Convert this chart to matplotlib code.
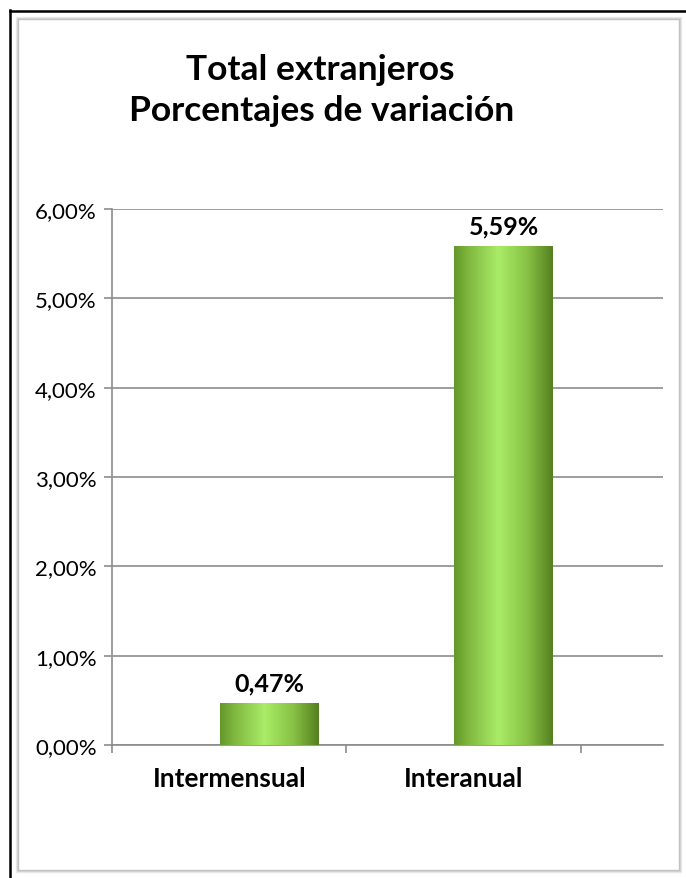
import numpy as np
import matplotlib
matplotlib.use("Agg")
import matplotlib.pyplot as plt
from matplotlib.colors import LinearSegmentedColormap
from matplotlib.lines import Line2D
from matplotlib.patches import Rectangle

# Data
categories = ["Intermensual", "Interanual"]
values = [0.47, 5.59]
value_labels = ["0,47%", "5,59%"]
y_ticks = [0, 1, 2, 3, 4, 5, 6]
y_tick_labels = ["0,00%", "1,00%", "2,00%", "3,00%", "4,00%", "5,00%", "6,00%"]
title_lines = ["Total extranjeros", "Porcentajes de variación"]

plt.rcParams['font.family'] = ['Lato', 'DejaVu Sans']

W, H = 686, 879
fig = plt.figure(figsize=(W / 100, H / 100), dpi=100)
fig.patch.set_facecolor("white")

# Chart frame: black outer lines and a soft grey inner border
fig.add_artist(Line2D([10 / W, 10 / W], [0, 1 - 11 / H], color="black", lw=1.8,
                      transform=fig.transFigure))
fig.add_artist(Line2D([10 / W, 1], [1 - 11.5 / H, 1 - 11.5 / H], color="black", lw=1.8,
                      transform=fig.transFigure))
for i, c in enumerate(["#ececec", "#d6d6d6", "#c2c2c2"]):
    d = i * 1.0
    fig.add_artist(Rectangle(((16 + d) / W, (H - 873 + d) / H), (665 - 2 * d) / W,
                             (855 - 2 * d) / H, fill=False, edgecolor=c, lw=1.0,
                             transform=fig.transFigure))

ax = fig.add_axes([112 / W, 1 - 746 / H, 551 / W, 536 / H])

x = np.arange(len(categories))
offset = 0.17
bars = ax.bar(x + offset, values, width=0.42, color="none", edgecolor="none", zorder=3)

cmap = LinearSegmentedColormap.from_list(
    "bar_green",
    [(0.0, "#64972a"), (0.15, "#80b940"), (0.45, "#aaec68"), (0.75, "#86c044"), (1.0, "#557f1f")])
grad = np.linspace(0, 1, 256).reshape(1, -1)
for b in bars:
    x0, y0 = b.get_x(), b.get_y()
    w, h = b.get_width(), b.get_height()
    im = ax.imshow(grad, cmap=cmap, extent=(x0, x0 + w, y0, y0 + h), aspect="auto",
                   zorder=3, interpolation="bicubic")
    im.set_clip_path(b)

for xi, v, lab in zip(x + offset, values, value_labels):
    ax.annotate(lab, (xi, v), xytext=(0, 6), textcoords="offset points",
                ha="center", va="bottom", fontsize=18, fontweight="bold", color="black")

ax.set_xlim(-0.5, 1.85)
ax.set_ylim(0, 6)

grid_c = "#8c8c8c"
ax.set_yticks(y_ticks)
ax.set_yticklabels(y_tick_labels, fontsize=16)
ax.yaxis.grid(True, color=grid_c, lw=1.2)
ax.set_axisbelow(True)
ax.tick_params(axis="y", length=6, width=1.2, color=grid_c, pad=5)

ax.set_xticks(x)
ax.set_xticklabels(categories, fontsize=19, fontweight="bold")
ax.set_xticks([-0.5, 0.5, 1.5], minor=True)
ax.tick_params(axis="x", which="major", length=0, pad=15)
ax.tick_params(axis="x", which="minor", length=6, width=1.2, color=grid_c)

for s in ["top", "right"]:
    ax.spines[s].set_visible(False)
for s in ["left", "bottom"]:
    ax.spines[s].set_color(grid_c)
    ax.spines[s].set_linewidth(1.2)

fig.text(320 / W, 1 - 70 / H, title_lines[0], ha="center", va="center",
         fontsize=25.5, fontweight="bold")
fig.text(322 / W, 1 - 111 / H, title_lines[1], ha="center", va="center",
         fontsize=25.5, fontweight="bold")

fig.savefig("out.png", dpi=100)
